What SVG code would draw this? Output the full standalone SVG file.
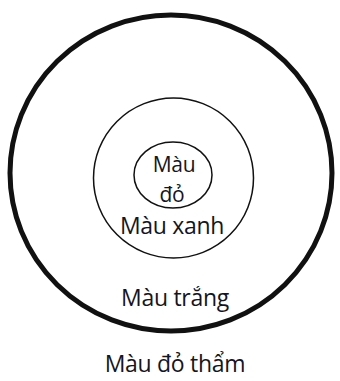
<svg xmlns="http://www.w3.org/2000/svg" width="340" height="381" viewBox="0 0 340 381">
<style>
.c{fill:none;stroke:#111}
.t{font-family:"Open Sans","Liberation Sans",sans-serif;font-size:23px;fill:#15151d;text-anchor:middle;letter-spacing:-0.3px}
.s{font-size:21px}
</style>
<rect width="340" height="381" fill="#fff"/>
<g id="outer"><ellipse class="c" cx="171" cy="173" rx="161" ry="158" stroke-width="5"/></g>
<g id="middle"><circle class="c" cx="173.5" cy="178" r="80" stroke-width="1.5"/></g>
<g id="inner"><ellipse class="c" cx="173" cy="175" rx="39" ry="33" stroke-width="1.5"/></g>
<g id="labels">
<text class="t s" x="174" y="172">Màu</text>
<text class="t s" x="172" y="202">đỏ</text>
<text class="t" x="172" y="234">Màu xanh</text>
<text class="t" x="175" y="306">Màu trắng</text>
<text class="t" x="175" y="372">Màu đỏ thẩm</text>
</g>
</svg>
